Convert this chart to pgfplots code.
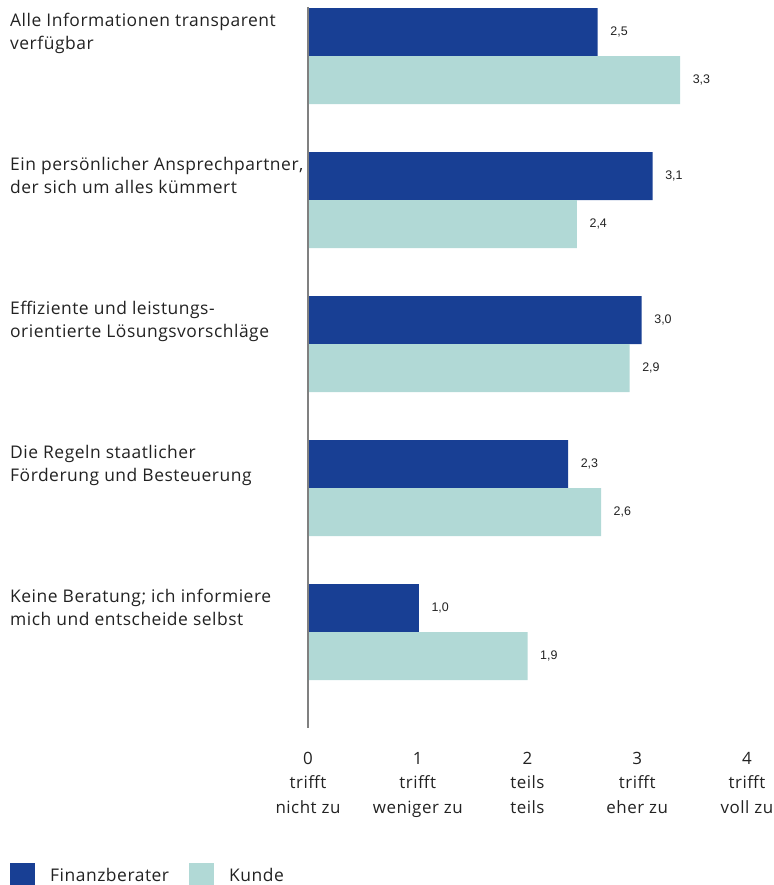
\documentclass[border=0pt]{standalone}
\usepackage{fontspec}
\setmainfont{Open Sans}[LetterSpace=3]
\newfontfamily\valfont{Liberation Sans}
\usepackage{pgfplots}
\pgfplotsset{compat=1.18}
\definecolor{fb}{HTML}{183F94}
\definecolor{ku}{HTML}{B1D9D6}
\definecolor{txt}{HTML}{222222}
\begin{document}
\begin{tikzpicture}
\useasboundingbox (0,0) rectangle (774bp,-885bp);
\begin{axis}[
  at={(308bp,-7bp)}, anchor=north west,
  scale only axis, width=439bp, height=721bp,
  xmin=0, xmax=4, ymin=7, ymax=728, y dir=reverse,
  xbar, bar width=48, bar shift=0pt,
  axis lines*=left,
  x axis line style={draw=none},
  y axis line style={draw=gray, line width=2.5bp},
  axis on top, clip=false,
  major tick length=0pt,
  xtick={0,1,2,3,4},
  xticklabels={{0\\trifft\\nicht zu},{1\\trifft\\weniger zu},{2\\teils\\teils},{3\\trifft\\eher zu},{4\\trifft\\voll zu}},
  xticklabel style={align=center, font=\fontsize{17}{24.5}\selectfont, text=txt, inner sep=0pt, anchor=north, yshift=-24bp},
  ytick={8,152,296,440,584},
  yticklabels={{Alle Informationen transparent\\verfügbar},{Ein persönlicher Ansprechpartner,\\der sich um alles kümmert},{Effiziente und leistungs-\\orientierte Lösungsvorschläge},{Die Regeln staatlicher\\Förderung und Besteuerung},{Keine Beratung; ich informiere\\mich und entscheide selbst}},
  yticklabel style={align=left, font=\fontsize{17.5}{22.7}\selectfont, text=txt, inner sep=0pt, anchor=north west, xshift=-298bp, yshift=-5bp},
  point meta=explicit symbolic,
  nodes near coords,
  every node near coord/.append style={anchor=west, inner sep=0pt, xshift=12.5bp, font=\valfont\fontsize{12.5}{13}\selectfont, text=txt},
  legend image code/.code={\fill[#1] (0bp,-12.5bp) rectangle (25bp,12.5bp);},
  legend columns=2,
  legend style={at={(axis description cs:-0.6788,-0.1872)}, anchor=north west, draw=none, fill=none, inner sep=0pt,
    nodes={inner sep=0pt, font=\fontsize{17.5}{18}\selectfont, text=txt},
    /tikz/every odd column/.append style={column sep=15bp},
    /tikz/every even column/.append style={column sep=20bp}},
]
\addplot[fill=fb, draw=none] coordinates {
  (2.64,32) [2,5]
  (3.14,176) [3,1]
  (3.04,320) [3,0]
  (2.37,464) [2,3]
  (1.01,608) [1,0]
};
\addlegendentry{Finanzberater}
\addplot[fill=ku, draw=none] coordinates {
  (3.39,80) [3,3]
  (2.45,224) [2,4]
  (2.93,368) [2,9]
  (2.67,512) [2,6]
  (2.00,656) [1,9]
};
\addlegendentry{Kunde}
\end{axis}
\end{tikzpicture}
\end{document}
